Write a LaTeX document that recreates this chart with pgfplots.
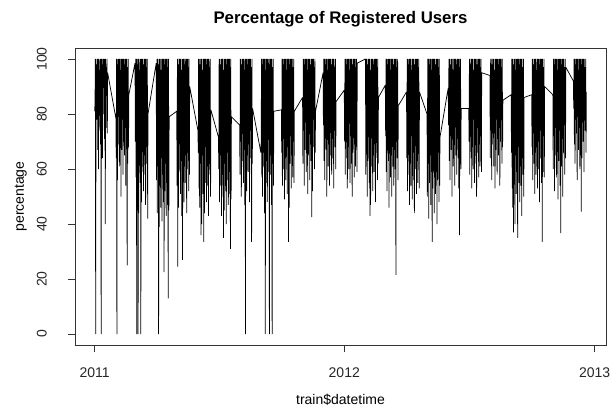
\documentclass[border=0pt]{standalone}
\usepackage{pgfplots}
\pgfplotsset{compat=1.18}
\usepackage{fontspec}
\setmainfont{Liberation Sans}
\begin{document}
\begin{tikzpicture}
\path[use as bounding box] (-56.25pt,-48.75pt) rectangle (403.5pt,258.75pt);
\begin{axis}[
  at={(0pt,0pt)}, anchor=south west,
  scale only axis, width=398.25pt, height=222.75pt,
  xmin=-28.76, xmax=747.72, ymin=-4, ymax=104,
  axis line style={black!80, line width=0.6pt},
  tick align=outside, tick pos=left,
  major tick length=5.25pt,
  every tick/.style={black!80, line width=0.6pt},
  xtick={0,365,731}, xticklabels={2011,2012,2013},
  ytick={0,20,40,60,80,100},
  /pgf/number format/assume math mode=true,
  ticklabel style={font=\fontsize{10.5}{12}\selectfont, text=black!85},
  xticklabel style={anchor=north, inner sep=0pt, yshift=-11.25pt},
  yticklabel style={rotate=90, anchor=south, inner sep=0pt, yshift=15.75pt},
  title={Percentage of Registered Users},
  title style={font=\bfseries\fontsize{12.6}{15}\selectfont, at={(axis description cs:0.5,1)}, anchor=base, yshift=12pt, inner sep=0pt},
  xlabel={train\$datetime},
  xlabel style={font=\fontsize{10.5}{12}\selectfont, at={(axis description cs:0.5,0)}, anchor=base, yshift=-44.25pt, inner sep=0pt},
  ylabel={percentage},
  ylabel style={font=\fontsize{10.5}{12}\selectfont, at={(axis description cs:0,0.5)}, anchor=base, yshift=38.25pt, inner sep=0pt},
]
\addplot[black, line width=0.55pt, line join=bevel, mark=none] coordinates {
(0,81)(0.5,84)(1,100)(1.5,0)(2,100)(2.5,89)(3,98)(3.5,78)(4,100)(4.5,67)(5,100)(5.5,60)(6,100)(6.5,74)(7,96)(7.5,92)(8,100)(8.5,69)(9,100)(9.5,0)(10,100)(10.5,76)(11,100)(11.5,64)(12,98)(12.5,80)(13,100)(13.5,90)(14,100)(14.5,71)(15,100)(15.5,40)(16,100)(16.5,75)(17,97)(17.5,88)(18,100)(18.5,73)(18.95,95)
(31,78.5)(31.5,64)(32,100)(32.5,0)(33,100)(33.5,56)(34,98)(34.5,69)(35,100)(35.5,79)(36,100)(36.5,61)(37,100)(37.5,73)(38,96)(38.5,50)(39,100)(39.5,67)(40,100)(40.5,78)(41,100)(41.5,58)(42,100)(42.5,71)(43,98)(43.5,65)(44,100)(44.5,75)(45,100)(45.5,54)(46,100)(46.5,70)(47,100)(47.5,25)(48,97)(48.5,62)(49,100)(49.5,68)(49.95,87)
(59,98.5)(59.5,70)(60,100)(60.5,57)(61,100)(61.5,0)(62,98)(62.5,66)(63,100)(63.5,0)(64,100)(64.5,44)(65,100)(65.5,69)(66,96)(66.5,55)(67,100)(67.5,0)(68,100)(68.5,48)(69,100)(69.5,72)(70,100)(70.5,59)(71,98)(71.5,52)(72,100)(72.5,65)(73,100)(73.5,58)(74,100)(74.5,47)(75,100)(75.5,68)(76,97)(76.5,62)(77,100)(77.5,42)(77.95,80)
(90,98.5)(90.5,56)(91,100)(91.5,44)(92,100)(92.5,61)(93,98)(93.5,0)(94,100)(94.5,39)(95,100)(95.5,54)(96,100)(96.5,46)(97,96)(97.5,64)(98,100)(98.5,41)(99,100)(99.5,58)(100,100)(100.5,48)(101,100)(101.5,22.5)(102,98)(102.5,52)(103,100)(103.5,62)(104,100)(104.5,43)(105,100)(105.5,55)(106,100)(106.5,47)(107,97)(107.5,13)(108,100)(108.5,45)(108.95,79)
(120,81)(120.5,54)(121,100)(121.5,24.5)(122,100)(122.5,46)(123,98)(123.5,59)(124,100)(124.5,69)(125,100)(125.5,51)(126,100)(126.5,63)(127,96)(127.5,43)(128,100)(128.5,27)(129,100)(129.5,68)(130,100)(130.5,48)(131,100)(131.5,61)(132,98)(132.5,55)(133,100)(133.5,65)(134,100)(134.5,44)(135,100)(135.5,60)(136,100)(136.5,70)(137,97)(137.5,52)(138,100)(138.5,58)(138.95,90)
(151,74)(151.5,66)(152,100)(152.5,53)(153,100)(153.5,46)(154,98)(154.5,62)(155,100)(155.5,36)(156,100)(156.5,40)(157,100)(157.5,65)(158,96)(158.5,51)(159,100)(159.5,33.5)(160,100)(160.5,44)(161,100)(161.5,68)(162,100)(162.5,55)(163,98)(163.5,48)(164,100)(164.5,61)(165,100)(165.5,54)(166,100)(166.5,43)(167,100)(167.5,64)(168,97)(168.5,58)(169,100)(169.5,50)(169.95,81.5)
(181,71.6)(181.5,60)(182,100)(182.5,48)(183,100)(183.5,65)(184,98)(184.5,54)(185,100)(185.5,43)(186,100)(186.5,58)(187,100)(187.5,50)(188,96)(188.5,35)(189,100)(189.5,45)(190,100)(190.5,62)(191,100)(191.5,52)(192,100)(192.5,40)(193,98)(193.5,56)(194,100)(194.5,66)(195,100)(195.5,47)(196,100)(196.5,59)(197,100)(197.5,51)(198,97)(198.5,31)(199,100)(199.5,49)(199.95,79)
(212,76)(212.5,58)(213,100)(213.5,70)(214,100)(214.5,50)(215,98)(215.5,63)(216,100)(216.5,73)(217,100)(217.5,55)(218,100)(218.5,67)(219,96)(219.5,47)(220,100)(220.5,0)(221,100)(221.5,72)(222,100)(222.5,52)(223,100)(223.5,65)(224,98)(224.5,59)(225,100)(225.5,69)(226,100)(226.5,48)(227,100)(227.5,64)(228,100)(228.5,74)(229,97)(229.5,33.5)(230,100)(230.5,62)(230.95,82)
(243,66)(243.5,70)(244,100)(244.5,57)(245,100)(245.5,50)(246,98)(246.5,66)(247,100)(247.5,61)(248,100)(248.5,44)(249,100)(249.5,0)(250,96)(250.5,55)(251,100)(251.5,63)(252,100)(252.5,48)(253,100)(253.5,72)(254,100)(254.5,59)(255,98)(255.5,0)(256,100)(256.5,65)(257,100)(257.5,58)(258,100)(258.5,47)(259,100)(259.5,0)(260,97)(260.5,62)(261,100)(261.5,54)(261.95,81)
(273,81.5)(273.5,66)(274,100)(274.5,54)(275,100)(275.5,71)(276,98)(276.5,60)(277,100)(277.5,49)(278,100)(278.5,64)(279,100)(279.5,56)(280,96)(280.5,74)(281,100)(281.5,51)(282,100)(282.5,68)(283,100)(283.5,33.5)(284,100)(284.5,46)(285,98)(285.5,62)(286,100)(286.5,72)(287,100)(287.5,53)(288,100)(288.5,65)(289,100)(289.5,57)(290,97)(290.5,70)(291,100)(291.5,55)(291.95,81)
(304,86)(304.5,62)(305,100)(305.5,74)(306,100)(306.5,54)(307,98)(307.5,67)(308,100)(308.5,77)(309,100)(309.5,59)(310,100)(310.5,71)(311,96)(311.5,51)(312,100)(312.5,65)(313,100)(313.5,76)(314,100)(314.5,56)(315,100)(315.5,69)(316,98)(316.5,63)(317,100)(317.5,42.5)(318,100)(318.5,52)(319,100)(319.5,68)(320,100)(320.5,78)(321,97)(321.5,60)(322,100)(322.5,66)(322.95,81)
(334,95)(334.5,76)(335,100)(335.5,63)(336,100)(336.5,56)(337,98)(337.5,72)(338,100)(338.5,67)(339,100)(339.5,50)(340,100)(340.5,75)(341,96)(341.5,61)(342,100)(342.5,69)(343,100)(343.5,54)(344,100)(344.5,78)(345,100)(345.5,65)(346,98)(346.5,58)(347,100)(347.5,71)(348,100)(348.5,64)(349,100)(349.5,53)(350,100)(350.5,74)(351,97)(351.5,68)(352,100)(352.5,60)(352.95,84.5)
(365,88.7)(365.5,70)(366,100)(366.5,58)(367,100)(367.5,75)(368,98)(368.5,64)(369,100)(369.5,53)(370,100)(370.5,68)(371,100)(371.5,60)(372,96)(372.5,78)(373,100)(373.5,55)(374,100)(374.5,72)(375,100)(375.5,62)(376,100)(376.5,50)(377,98)(377.5,66)(378,100)(378.5,76)(379,100)(379.5,57)(380,100)(380.5,69)(381,100)(381.5,61)(382,97)(382.5,74)(383,100)(383.5,59)(383.95,98.5)
(396,100)(396.5,58)(397,100)(397.5,70)(398,100)(398.5,50)(399,98)(399.5,63)(400,100)(400.5,73)(401,100)(401.5,55)(402,100)(402.5,43)(403,96)(403.5,47)(404,100)(404.5,61)(405,100)(405.5,72)(406,100)(406.5,52)(407,100)(407.5,65)(408,98)(408.5,59)(409,100)(409.5,69)(410,100)(410.5,48)(411,100)(411.5,64)(412,100)(412.5,74)(413,97)(413.5,56)(414,100)(414.5,62)(414.95,86)
(425,90.5)(425.5,72)(426,100)(426.5,59)(427,100)(427.5,52)(428,98)(428.5,68)(429,100)(429.5,63)(430,100)(430.5,46)(431,100)(431.5,71)(432,96)(432.5,57)(433,100)(433.5,65)(434,100)(434.5,50)(435,100)(435.5,74)(436,100)(436.5,61)(437,98)(437.5,54)(438,100)(438.5,67)(439,100)(439.5,60)(440,100)(440.5,21.5)(441,100)(441.5,70)(442,97)(442.5,64)(443,100)(443.5,56)(443.95,83)
(456,88)(456.5,64)(457,100)(457.5,52)(458,100)(458.5,69)(459,98)(459.5,58)(460,100)(460.5,47)(461,100)(461.5,62)(462,100)(462.5,54)(463,96)(463.5,72)(464,100)(464.5,49)(465,100)(465.5,66)(466,100)(466.5,56)(467,100)(467.5,44)(468,98)(468.5,60)(469,100)(469.5,70)(470,100)(470.5,51)(471,100)(471.5,63)(472,100)(472.5,55)(473,97)(473.5,68)(474,100)(474.5,53)(474.95,88)
(486,80)(486.5,50)(487,100)(487.5,62)(488,100)(488.5,42)(489,98)(489.5,55)(490,100)(490.5,65)(491,100)(491.5,47)(492,100)(492.5,59)(493,96)(493.5,33.5)(494,100)(494.5,53)(495,100)(495.5,64)(496,100)(496.5,44)(497,100)(497.5,57)(498,98)(498.5,51)(499,100)(499.5,61)(500,100)(500.5,40)(501,100)(501.5,56)(502,100)(502.5,66)(503,97)(503.5,48)(504,100)(504.5,54)(504.95,71.6)
(517,89.5)(517.5,76)(518,100)(518.5,63)(519,100)(519.5,56)(520,98)(520.5,72)(521,100)(521.5,67)(522,100)(522.5,50)(523,100)(523.5,75)(524,96)(524.5,61)(525,100)(525.5,69)(526,100)(526.5,54)(527,100)(527.5,78)(528,100)(528.5,65)(529,98)(529.5,58)(530,100)(530.5,71)(531,100)(531.5,64)(532,100)(532.5,53)(533,100)(533.5,36)(534,97)(534.5,68)(535,100)(535.5,60)(535.95,82)
(547,82)(547.5,70)(548,100)(548.5,58)(549,100)(549.5,75)(550,98)(550.5,64)(551,100)(551.5,53)(552,100)(552.5,68)(553,100)(553.5,60)(554,96)(554.5,78)(555,100)(555.5,55)(556,100)(556.5,72)(557,100)(557.5,62)(558,100)(558.5,50)(559,98)(559.5,66)(560,100)(560.5,76)(561,100)(561.5,57)(562,100)(562.5,69)(563,100)(563.5,61)(564,97)(564.5,74)(565,100)(565.5,59)(565.95,95)
(578,94)(578.5,64)(579,100)(579.5,76)(580,100)(580.5,56)(581,98)(581.5,69)(582,100)(582.5,79)(583,100)(583.5,61)(584,100)(584.5,73)(585,96)(585.5,53)(586,100)(586.5,67)(587,100)(587.5,78)(588,100)(588.5,58)(589,100)(589.5,71)(590,98)(590.5,65)(591,100)(591.5,75)(592,100)(592.5,54)(593,100)(593.5,70)(594,100)(594.5,80)(595,97)(595.5,62)(596,100)(596.5,68)(596.95,85)
(609,87)(609.5,66)(610,100)(610.5,53)(611,100)(611.5,46)(612,98)(612.5,37)(613,100)(613.5,57)(614,100)(614.5,40)(615,100)(615.5,65)(616,96)(616.5,51)(617,100)(617.5,59)(618,100)(618.5,35)(619,100)(619.5,68)(620,100)(620.5,55)(621,98)(621.5,48)(622,100)(622.5,61)(623,100)(623.5,54)(624,100)(624.5,43)(625,100)(625.5,64)(626,97)(626.5,58)(627,100)(627.5,50)(627.95,86)
(639,87)(639.5,68)(640,100)(640.5,56)(641,100)(641.5,73)(642,98)(642.5,62)(643,100)(643.5,51)(644,100)(644.5,66)(645,100)(645.5,58)(646,96)(646.5,76)(647,100)(647.5,53)(648,100)(648.5,70)(649,100)(649.5,60)(650,100)(650.5,48)(651,98)(651.5,64)(652,100)(652.5,74)(653,100)(653.5,55)(654,100)(654.5,33.5)(655,100)(655.5,59)(656,97)(656.5,72)(657,100)(657.5,57)(657.95,90)
(670,87)(670.5,60)(671,100)(671.5,72)(672,100)(672.5,52)(673,98)(673.5,65)(674,100)(674.5,75)(675,100)(675.5,57)(676,100)(676.5,69)(677,96)(677.5,49)(678,100)(678.5,63)(679,100)(679.5,74)(680,100)(680.5,54)(681,100)(681.5,36.7)(682,98)(682.5,61)(683,100)(683.5,71)(684,100)(684.5,50)(685,100)(685.5,66)(686,100)(686.5,76)(687,97)(687.5,58)(688,100)(688.5,64)(688.95,97)
(700,92)(700.5,82)(701,100)(701.5,69)(702,100)(702.5,62)(703,98)(703.5,78)(704,100)(704.5,73)(705,100)(705.5,56)(706,100)(706.5,81)(707,96)(707.5,67)(708,100)(708.5,75)(709,100)(709.5,60)(710,100)(710.5,84)(711,100)(711.5,44.5)(712,98)(712.5,64)(713,100)(713.5,77)(714,100)(714.5,70)(715,100)(715.5,59)(716,100)(716.5,80)(717,97)(717.5,74)(718,100)(718.5,66)(718.95,88)
};
\end{axis}
\end{tikzpicture}
\end{document}
